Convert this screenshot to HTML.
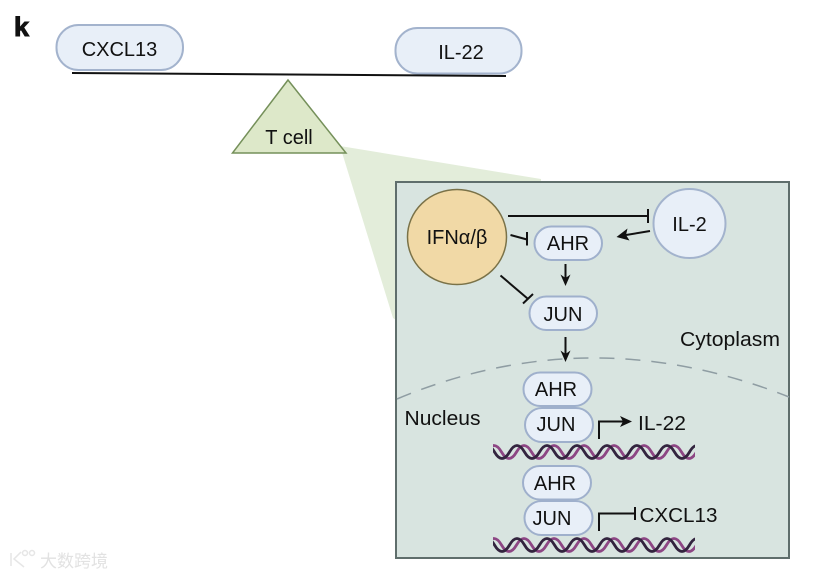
<!DOCTYPE html>
<html>
<head>
<meta charset="utf-8">
<style>
html,body{margin:0;padding:0;background:#fff}
svg{display:block}
text{font-family:"Liberation Sans","Noto Sans CJK SC",sans-serif;fill:#111}
</style>
</head>
<body>
<svg width="826" height="576" viewBox="0 0 826 576" xmlns="http://www.w3.org/2000/svg">
<defs>
<clipPath id="c1"><rect x="493" y="440" width="202" height="24"/></clipPath>
<clipPath id="c2"><rect x="493" y="533" width="202" height="24"/></clipPath>
</defs>
<rect width="826" height="576" fill="#fff"/>
<polygon points="340,146 541,179 541,182 396,182 396,320 393,318" fill="#e3edda"/>
<rect x="396" y="182" width="393" height="376" fill="#d8e4e0" stroke="#5f6e6c" stroke-width="2"/>

<text x="14" y="36" font-size="27" font-weight="bold" stroke="#111" stroke-width="1">k</text>

<rect x="56.500" y="25" width="126.500" height="45" rx="22" fill="#e8eff8" stroke="#a3b3cd" stroke-width="2"/>
<text x="119.500" y="56" font-size="20" text-anchor="middle">CXCL13</text>
<rect x="395.500" y="28" width="126" height="45.500" rx="22" fill="#e8eff8" stroke="#a3b3cd" stroke-width="2"/>
<text x="461" y="59" font-size="20" text-anchor="middle">IL-22</text>
<line x1="72" y1="73" x2="506" y2="76" stroke="#111" stroke-width="2"/>
<polygon points="288,80 232.500,153 346,153" fill="#dde8c9" stroke="#75905a" stroke-width="1.500"/>
<text x="289" y="144" font-size="20" text-anchor="middle">T cell</text>

<path d="M397 399 Q590 318 789 397" fill="none" stroke="#8f9da3" stroke-width="1.500" stroke-dasharray="15 11"/>

<ellipse cx="457" cy="237" rx="49.500" ry="47.500" fill="#f1d9a6" stroke="#7a7248" stroke-width="1.500"/>
<text x="457" y="244" font-size="20" text-anchor="middle">IFNα/β</text>
<ellipse cx="689.500" cy="223.500" rx="36" ry="34.500" fill="#e8eff8" stroke="#a3b3cd" stroke-width="2"/>
<text x="689.500" y="231" font-size="20" text-anchor="middle">IL-2</text>

<rect x="534.500" y="226.500" width="67.500" height="33.500" rx="16.750" fill="#e8eff8" stroke="#9fb0cc" stroke-width="2"/>
<text x="568" y="250" font-size="20" text-anchor="middle">AHR</text>
<rect x="529.500" y="296.500" width="67.500" height="33.500" rx="16.750" fill="#e8eff8" stroke="#9fb0cc" stroke-width="2"/>
<text x="563" y="321" font-size="20" text-anchor="middle">JUN</text>
<rect x="523.500" y="372.500" width="68" height="33.500" rx="16.750" fill="#e8eff8" stroke="#9fb0cc" stroke-width="2"/>
<text x="556" y="396" font-size="20" text-anchor="middle">AHR</text>
<rect x="525" y="408" width="68" height="34" rx="17" fill="#e8eff8" stroke="#9fb0cc" stroke-width="2"/>
<text x="556" y="431" font-size="20" text-anchor="middle">JUN</text>
<rect x="523" y="466" width="68" height="33.500" rx="16.750" fill="#e8eff8" stroke="#9fb0cc" stroke-width="2"/>
<text x="555" y="490" font-size="20" text-anchor="middle">AHR</text>
<rect x="524.500" y="501" width="68" height="34" rx="17" fill="#e8eff8" stroke="#9fb0cc" stroke-width="2"/>
<text x="552" y="525" font-size="20" text-anchor="middle">JUN</text>

<g stroke="#111" stroke-width="2" fill="none">
<path d="M508 216H648M648 209V223"/>
<path d="M510.500 235L527 239.500M527 232V245.500"/>
<path d="M500.500 275.500L527.500 298.500M533 294L523 303.500"/>
<path d="M650 231L626 235"/>
<path d="M565.500 264V280"/>
<path d="M565.500 337V356"/>
<path d="M599 439V421.500H624"/>
<path d="M599 531V513.500H635M635 507V520"/>
</g>
<g fill="#111">
<polygon points="616.500,237 627.500,228.500 626,235 629.500,240.500"/>
<polygon points="565.500,286 560.500,274.500 565.500,278 570.500,274.500"/>
<polygon points="565.500,362 560.500,350.500 565.500,354 570.500,350.500"/>
<polygon points="632,421.500 620,416 623,421.500 620,427"/>
</g>

<text x="680" y="346" font-size="20" textLength="100" lengthAdjust="spacingAndGlyphs">Cytoplasm</text>
<text x="404.500" y="425" font-size="20" textLength="76" lengthAdjust="spacingAndGlyphs">Nucleus</text>
<text x="638" y="430" font-size="20" textLength="48" lengthAdjust="spacingAndGlyphs">IL-22</text>
<text x="639.500" y="522" font-size="20" textLength="78" lengthAdjust="spacingAndGlyphs">CXCL13</text>

<g fill="none" stroke-width="2.800" clip-path="url(#c1)">
<path d="M486.500 452q7.500 -13 15 0t15 0t15 0t15 0t15 0t15 0t15 0t15 0t15 0t15 0t15 0t15 0t15 0t15 0" stroke="#8d4684"/>
<path d="M479.500 452q7.500 -13 15 0t15 0t15 0t15 0t15 0t15 0t15 0t15 0t15 0t15 0t15 0t15 0t15 0t15 0t15 0" stroke="#33243f"/>
</g>
<g fill="none" stroke-width="2.800" clip-path="url(#c2)">
<path d="M486.500 545q7.500 -13 15 0t15 0t15 0t15 0t15 0t15 0t15 0t15 0t15 0t15 0t15 0t15 0t15 0t15 0" stroke="#8d4684"/>
<path d="M479.500 545q7.500 -13 15 0t15 0t15 0t15 0t15 0t15 0t15 0t15 0t15 0t15 0t15 0t15 0t15 0t15 0t15 0" stroke="#33243f"/>
</g>

<g fill="none" stroke="#e6e6e6" stroke-width="1.500">
<path d="M11 553V566M21 552L14 559L24 567"/>
<circle cx="25" cy="553" r="2.500"/>
<circle cx="32" cy="553" r="2.500"/>
</g>
<text x="40" y="567" font-size="17" style="fill:#e2e2e2">大数跨境</text>
</svg>
</body>
</html>
